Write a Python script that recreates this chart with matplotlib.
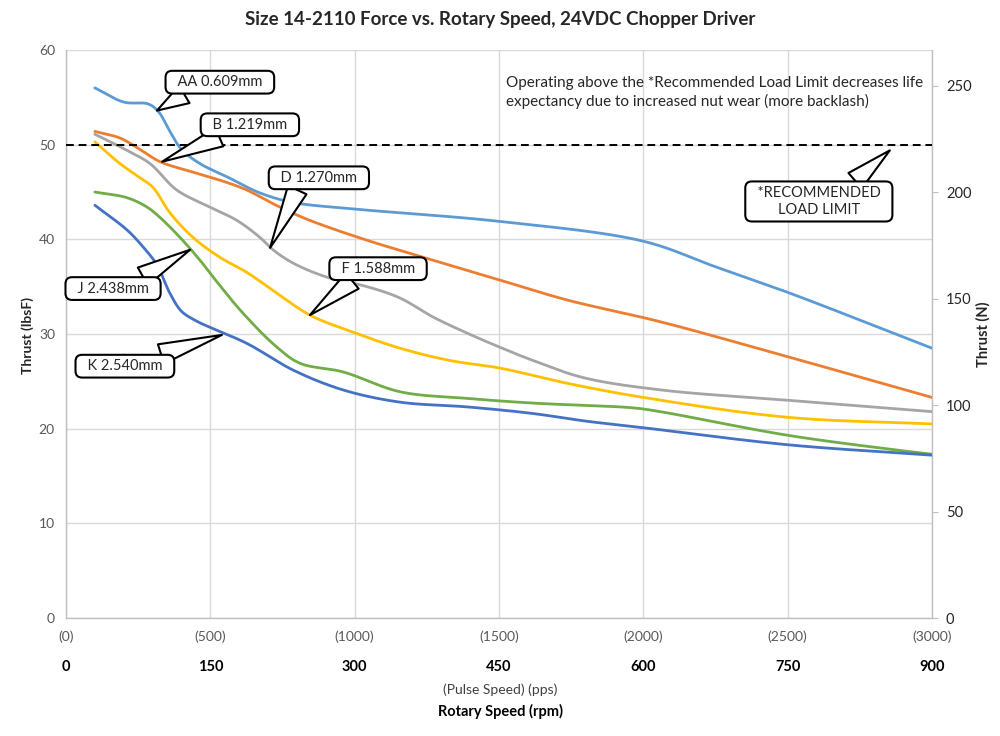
import numpy as np
import matplotlib
matplotlib.use("Agg")
import matplotlib.pyplot as plt
from matplotlib.transforms import blended_transform_factory, offset_copy

plt.rcParams['font.family'] = ['Lato', 'DejaVu Sans']

# ---------------- data (x in pulse speed, pps; y in lbf) ----------------
aa_x = [100, 200, 285, 320, 360, 400, 464, 558, 672, 786, 1000, 1500, 2000, 2250, 2500, 3000]
aa_y = [56.0, 54.5, 54.3, 53.5, 51.4, 49.5, 48.0, 46.6, 44.9, 43.9, 43.2, 41.9, 39.8, 37.1, 34.4, 28.5]

b_x = [100, 187, 246, 326, 440, 558, 627, 741, 845, 1043, 1216, 1503, 1735, 2058, 2500, 3000]
b_y = [51.4, 50.7, 49.7, 48.2, 47.1, 46.0, 45.2, 43.4, 42.0, 39.9, 38.3, 35.7, 33.6, 31.3, 27.6, 23.3]

d_x = [100, 211, 291, 384, 499, 592, 672, 717, 786, 904, 1043, 1157, 1271, 1389, 1503,
       1618, 1791, 2058, 2500, 3000]
d_y = [51.1, 49.4, 48.0, 45.2, 43.4, 42.0, 40.2, 38.9, 37.5, 36.0, 35.0, 33.8, 31.8, 30.1,
       28.6, 27.2, 25.4, 24.1, 23.0, 21.8]

f_x = [100, 187, 256, 301, 360, 440, 533, 627, 717, 845, 994, 1157, 1330, 1503, 1735, 2000, 2500, 3000]
f_y = [50.3, 48.0, 46.5, 45.5, 42.8, 40.2, 38.1, 36.5, 34.6, 32.0, 30.2, 28.5, 27.2, 26.4, 24.8, 23.3,
       21.2, 20.5]

j_x = [100, 211, 281, 326, 395, 464, 523, 613, 731, 811, 959, 1157, 1389, 1618, 1964, 2058, 2500,
       2889, 3000]
j_y = [45.0, 44.4, 43.4, 42.3, 40.2, 37.8, 35.5, 32.2, 28.6, 26.9, 26.0, 23.9, 23.2, 22.7, 22.2, 21.8,
       19.3, 17.7, 17.3]

k_x = [100, 211, 267, 315, 360, 400, 450, 499, 627, 786, 959, 1157, 1389, 1618, 1800, 2000, 2500, 3000]
k_y = [43.6, 41.0, 39.2, 37.3, 34.3, 32.4, 31.4, 30.7, 29.0, 26.2, 24.1, 22.8, 22.3, 21.6, 20.8, 20.1,
       18.3, 17.2]

series_names = ["AA 0.609mm", "B 1.219mm", "D 1.270mm", "F 1.588mm", "J 2.438mm", "K 2.540mm"]
series_x = [aa_x, b_x, d_x, f_x, j_x, k_x]
series_y = [aa_y, b_y, d_y, f_y, j_y, k_y]
series_colors = ["#5B9BD5", "#ED7D31", "#A5A5A5", "#FFC000", "#70AD47", "#4472C4"]

load_limit = 50
pps_ticks = [0, 500, 1000, 1500, 2000, 2500, 3000]
pps_labels = ["(0)", "(500)", "(1000)", "(1500)", "(2000)", "(2500)", "(3000)"]
rpm_labels = ["0", "150", "300", "450", "600", "750", "900"]
n_ticks = [0, 50, 100, 150, 200, 250]
LBF_TO_N = 4.44822

# callout anchors (data coords): text position, tip position
callout_text = [(533, 56.6), (637, 52.1), (876, 46.5), (1081, 36.9), (163, 34.8), (204, 26.6)]
callout_tip = [(315, 53.6), (333, 48.2), (707, 39.1), (845, 32.0), (430, 38.9), (540, 29.9)]
callout_rel = [(0.23, 0), (0.29, 0), (0.29, 0), (0.28, 0), (0.74, 1), (0.72, 1)]

W, H = 1000, 736
L, R, T, B = 66, 932, 50, 618
SX = (R - L) / 3000.0   # px per pps (used only for smoothing metric)
SY = (B - T) / 60.0     # px per lbf


def smooth(x, y, n=40, alpha=0.5):
    """Centripetal Catmull-Rom spline through the points (screen-scaled metric)."""
    P = np.column_stack([np.asarray(x, float) * SX, np.asarray(y, float) * SY])
    P = np.vstack([2 * P[0] - P[1], P, 2 * P[-1] - P[-2]])
    out = []
    for i in range(1, len(P) - 2):
        p0, p1, p2, p3 = P[i - 1], P[i], P[i + 1], P[i + 2]
        t0 = 0.0
        t1 = t0 + np.linalg.norm(p1 - p0) ** alpha
        t2 = t1 + np.linalg.norm(p2 - p1) ** alpha
        t3 = t2 + np.linalg.norm(p3 - p2) ** alpha
        t = np.linspace(t1, t2, n, endpoint=False)[:, None]
        a1 = (t1 - t) / (t1 - t0) * p0 + (t - t0) / (t1 - t0) * p1
        a2 = (t2 - t) / (t2 - t1) * p1 + (t - t1) / (t2 - t1) * p2
        a3 = (t3 - t) / (t3 - t2) * p2 + (t - t2) / (t3 - t2) * p3
        b1 = (t2 - t) / (t2 - t0) * a1 + (t - t0) / (t2 - t0) * a2
        b2 = (t3 - t) / (t3 - t1) * a2 + (t - t1) / (t3 - t1) * a3
        c = (t2 - t) / (t2 - t1) * b1 + (t - t1) / (t2 - t1) * b2
        out.append(c)
    out.append(P[-2][None, :])
    out = np.vstack(out)
    return out[:, 0] / SX, out[:, 1] / SY


fig = plt.figure(figsize=(W / 100, H / 100), dpi=100)
ax = fig.add_axes([L / W, 1 - B / H, (R - L) / W, (B - T) / H])

ax.set_xlim(0, 3000)
ax.set_ylim(0, 60)
ax.set_yticks(range(0, 61, 10))
ax.set_xticks(pps_ticks)
ax.set_xticklabels(pps_labels)
ax.grid(True, color="#D9D9D9", lw=1.0)
ax.set_axisbelow(True)
ax.spines["top"].set_visible(False)
for s in ["left", "right", "bottom"]:
    ax.spines[s].set_color("#BFBFBF")
    ax.spines[s].set_linewidth(1.0)
ax.tick_params(axis="both", length=0, labelsize=10, labelcolor="#595959")
ax.tick_params(axis="x", pad=9)
ax.tick_params(axis="y", pad=8)

# secondary axis in Newtons
ax2 = ax.twinx()
ax2.set_ylim(0, 60 * LBF_TO_N)
ax2.set_yticks(n_ticks)
ax2.tick_params(axis="y", length=4, color="#BFBFBF", labelsize=10.5, labelcolor="#262626", pad=6)
for s in ax2.spines.values():
    s.set_visible(False)

# rpm labels row
trans = blended_transform_factory(ax.transData, ax.transAxes)
for p, r in zip(pps_ticks, rpm_labels):
    ax.text(p, 0, r, transform=offset_copy(trans, fig=fig, x=0, y=-49, units="dots"),
            ha="center", va="center", fontsize=10.5, fontweight="bold", color="#000000")

# curves
for xs, ys, c in zip(series_x, series_y, series_colors):
    sx, sy = smooth(xs, ys)
    ax.plot(sx, sy, color=c, lw=2.0, solid_capstyle="round", zorder=3)

# recommended load limit
ax.axhline(load_limit, color="black", lw=1.4, ls=(0, (4, 2.5)), zorder=4)

box = dict(boxstyle="round,pad=0.3,rounding_size=0.45", fc="white", ec="black", lw=1.5)
wedge = "wedge,tail_width=1.4,shrink_factor=0.5"
for name, txy, tip, rel in zip(series_names, callout_text, callout_tip, callout_rel):
    ax.annotate("  " + name + "  ", xy=tip, xytext=txy, ha="center", va="center",
                fontsize=10.5, color="#262626", bbox=box, zorder=6,
                arrowprops=dict(arrowstyle=wedge, fc="white", ec="black", lw=1.5,
                                relpos=rel, shrinkA=0, shrinkB=0))

ax.annotate("  *RECOMMENDED  \nLOAD LIMIT", xy=(2854, 49.4), xytext=(2608, 44.0), ha="center",
            va="center", ma="center", fontsize=10.5, color="#262626", linespacing=1.3,
            bbox=box, zorder=6,
            arrowprops=dict(arrowstyle=wedge, fc="white", ec="black", lw=1.5,
                            relpos=(0.72, 1), shrinkA=0, shrinkB=0))

fig.text(506 / W, 1 - 76 / H,
         "Operating above the *Recommended Load Limit decreases life\n"
         "expectancy due to increased nut wear (more backlash)",
         ha="left", va="top", fontsize=11, color="#262626", linespacing=1.35)

# titles
fig.text(0.5, 1 - 20 / H, "Size 14-2110 Force vs. Rotary Speed, 24VDC Chopper Driver",
         ha="center", va="center", fontsize=13.5, fontweight="bold", color="#262626")
fig.text(0.5, 1 - 690 / H, "(Pulse Speed) (pps)", ha="center", va="center", fontsize=10,
         color="#404040")
fig.text(0.5, 1 - 711 / H, "Rotary Speed (rpm)", ha="center", va="center", fontsize=10.5,
         fontweight="bold", color="#000000")
fig.text(28 / W, 1 - 335 / H, "Thrust (lbsF)", rotation=90, ha="center", va="center",
         fontsize=10, fontweight="bold", color="#262626")
fig.text(983 / W, 1 - 334 / H, "Thrust (N)", rotation=90, ha="center", va="center",
         fontsize=10.5, fontweight="bold", color="#262626")

fig.savefig("out.png", dpi=100)
